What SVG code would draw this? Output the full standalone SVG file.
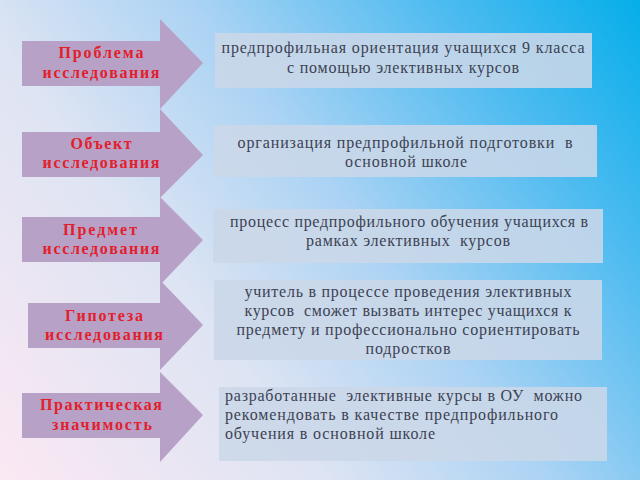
<svg xmlns="http://www.w3.org/2000/svg" width="640" height="480" viewBox="0 0 640 480">
<defs>
<linearGradient id="bg" gradientUnits="userSpaceOnUse" x1="0" y1="480" x2="640" y2="0">
<stop offset="0" stop-color="#fbe8f3"/>
<stop offset="0.33" stop-color="#dde4f3"/>
<stop offset="0.55" stop-color="#abd3f4"/>
<stop offset="0.8" stop-color="#4cbbf0"/>
<stop offset="1" stop-color="#05aeea"/>
</linearGradient>
<style>
.arrow{fill:#b7a1c7}
.box{fill:#cbd7e8;fill-opacity:0.88}
.lbl{font-family:'Liberation Serif','DejaVu Serif',serif;font-weight:bold;font-size:16px;fill:#e2202c;text-anchor:middle}
.txt{font-family:'Liberation Serif','DejaVu Serif',serif;font-size:16px;fill:#3c4252}
.c{text-anchor:middle}
</style>
</defs>
<rect width="640" height="480" fill="url(#bg)"/>
<g id="arrow5"><polygon class="arrow" points="22,393 160,393 160,372 203,415 160,462 160,438 22,438"/>
<text class="lbl" x="101" y="410" textLength="122">Практическая</text>
<text class="lbl" x="102" y="430" textLength="100">значимость</text></g>
<g id="arrow4"><polygon class="arrow" points="28,303 160,303 160,280 203,325 160,370 160,348 28,348"/>
<text class="lbl" x="104" y="321" textLength="78">Гипотеза</text>
<text class="lbl" x="104" y="340" textLength="118">исследования</text></g>
<g id="arrow3"><polygon class="arrow" points="22,217 160,217 160,197 203,240 160,285 160,262 22,262"/>
<text class="lbl" x="100" y="235" textLength="74">Предмет</text>
<text class="lbl" x="101" y="254" textLength="117">исследования</text></g>
<g id="arrow2"><polygon class="arrow" points="22,132 160,132 160,109 203,155 160,198 160,177 22,177"/>
<text class="lbl" x="101" y="149" textLength="61">Объект</text>
<text class="lbl" x="101" y="168" textLength="117">исследования</text></g>
<g id="arrow1"><polygon class="arrow" points="22,41 160,41 160,19 203,63 160,109 160,86 22,86"/>
<text class="lbl" x="101" y="58" textLength="85">Проблема</text>
<text class="lbl" x="101" y="78" textLength="117">исследования</text></g>
<g id="box1"><rect class="box" x="215" y="33" width="377" height="55"/>
<text class="txt c" x="403" y="53" textLength="363">предпрофильная ориентация учащихся 9 класса</text>
<text class="txt c" x="403" y="73" textLength="232">с помощью элективных курсов</text></g>
<g id="box2"><rect class="box" x="214" y="125" width="383" height="52"/>
<text class="txt c" x="405" y="148" textLength="335" xml:space="preserve">организация предпрофильной подготовки  в</text>
<text class="txt c" x="406" y="167" textLength="122">основной школе</text></g>
<g id="box3"><rect class="box" x="213" y="209" width="390" height="54"/>
<text class="txt c" x="409" y="227" textLength="358">процесс предпрофильного обучения учащихся в</text>
<text class="txt c" x="408" y="246" textLength="204" xml:space="preserve">рамках элективных  курсов</text></g>
<g id="box4"><rect class="box" x="214" y="280" width="388" height="80"/>
<text class="txt c" x="408" y="297" textLength="327">учитель в процессе проведения элективных</text>
<text class="txt c" x="408" y="316" textLength="327" xml:space="preserve">курсов  сможет вызвать интерес учащихся к</text>
<text class="txt c" x="408" y="335" textLength="343">предмету и профессионально сориентировать</text>
<text class="txt c" x="408" y="354" textLength="85">подростков</text></g>
<g id="box5"><rect class="box" x="219" y="387" width="388" height="74"/>
<text class="txt" x="225" y="401" textLength="357" xml:space="preserve">разработанные  элективные курсы в ОУ  можно</text>
<text class="txt" x="225" y="420" textLength="333">рекомендовать в качестве предпрофильного</text>
<text class="txt" x="225" y="439" textLength="210">обучения в основной школе</text></g>
<g id="connectors"/>
</svg>
